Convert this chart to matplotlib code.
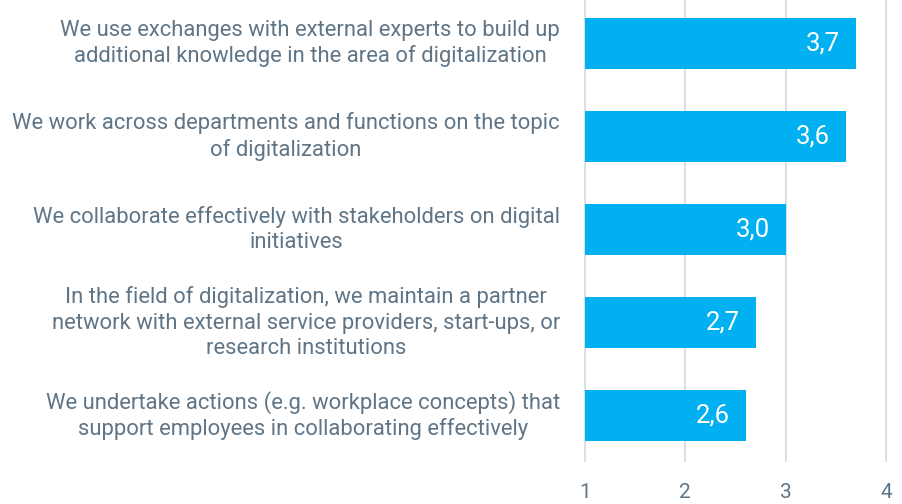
import matplotlib.pyplot as plt

labels = [
    "We use exchanges with external experts to build up\nadditional knowledge in the area of digitalization",
    "We work across departments and functions on the topic\nof digitalization",
    "We collaborate effectively with stakeholders on digital\ninitiatives",
    "In the field of digitalization, we maintain a partner\nnetwork with external service providers, start-ups, or\nresearch institutions",
    "We undertake actions (e.g. workplace concepts) that\nsupport employees in collaborating effectively",
]
values = [3.7, 3.6, 3.0, 2.7, 2.6]
ticks = [1, 2, 3, 4]

bar_color = "#00b0f0"
text_color = "#5f7586"
grid_color = "#d9e1e7"

plt.rcParams['font.family'] = ['Roboto', 'DejaVu Sans']

fig = plt.figure(figsize=(9.03, 5.04), dpi=100)
ax = fig.add_axes([583 / 903, 1 - 462 / 504, (888 - 583) / 903, 462 / 504])

n = len(values)
ypos = [n - 1 - i for i in range(n)]
widths = [v - 1 for v in values]
ax.barh(ypos, widths, left=1, height=0.55, color=bar_color, zorder=2)

for y, v in zip(ypos, values):
    ax.text(v - 0.16, y, f"{v:.1f}".replace(".", ","), color="white",
            fontsize=18.5, ha="right", va="center", zorder=3)

# category labels: right-aligned block ending ~23px left of the axis, lines centred
for y, lab in zip(ypos, labels):
    ax.text(-23 / 305, y, lab, transform=ax.get_yaxis_transform(), ha="right",
            va="center", multialignment="center", color=text_color, fontsize=15.8,
            linespacing=1.26)

ax.set_xlim(0.98, 4.02)
ax.set_ylim(-0.5, n - 1 + 43.5 / 93)
ax.set_xticks(ticks)
ax.set_xticklabels([str(t) for t in ticks], color=text_color, fontsize=15)
ax.tick_params(axis="x", length=0, pad=15)
ax.set_yticks([])
ax.grid(axis="x", color=grid_color, linewidth=1.5, zorder=0)
for s in ax.spines.values():
    s.set_visible(False)

fig.savefig("out.png", dpi=100)
